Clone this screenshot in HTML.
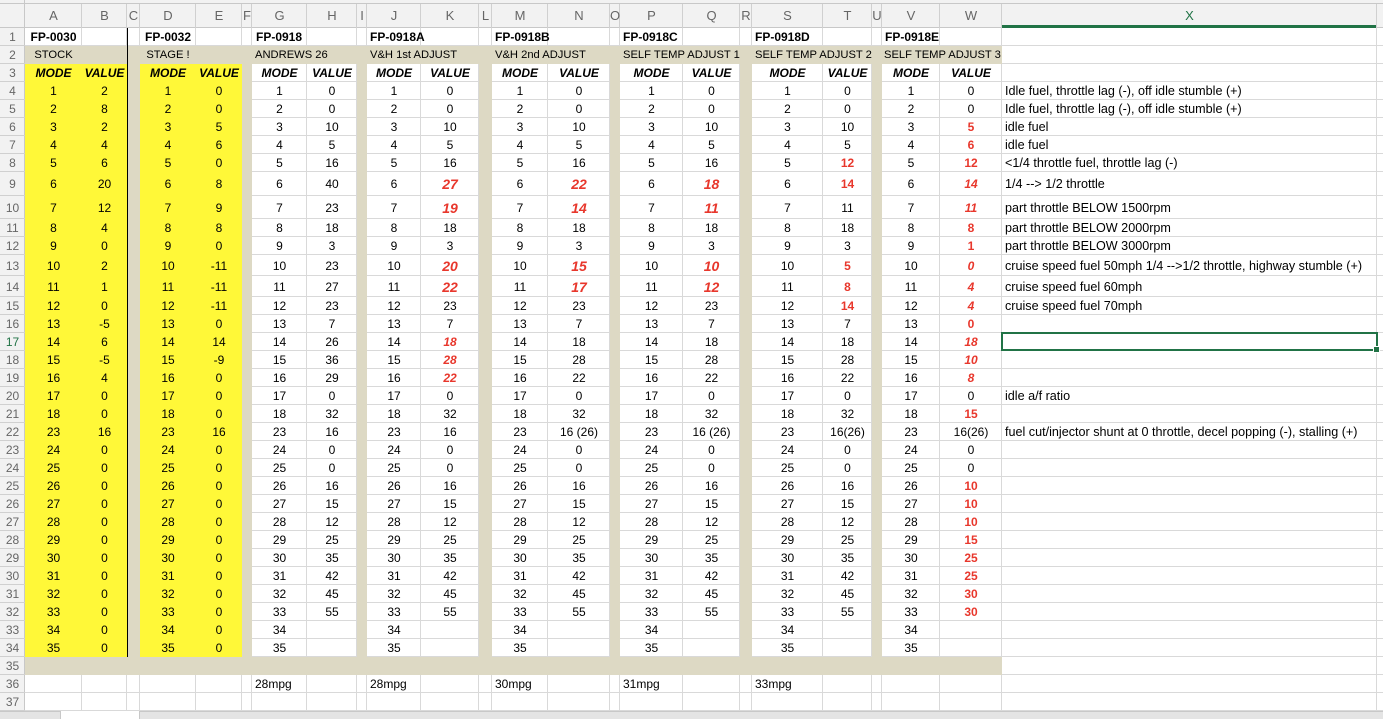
<!DOCTYPE html>
<html><head><meta charset="utf-8">
<style>
html,body{margin:0;padding:0;background:#fff;width:1383px;height:719px;overflow:hidden;position:relative;font-family:"Liberation Sans",Arial,sans-serif;}
svg.bg{position:absolute;left:0;top:0;}
table{position:absolute;left:0;top:0;border-collapse:collapse;table-layout:fixed;width:1383px;font-size:12px;}
td{padding:0;border:0;text-align:center;white-space:nowrap;overflow:visible;vertical-align:middle;color:#000;}
td.h{color:#666;font-size:12px;}
td.ch{color:#666;font-size:13px;vertical-align:middle;padding-top:3px;}
td.y{background:#fff838;}
td.g{background:#ddd9c4;}
td.l{text-align:left;padding-left:3px;}
td.l4{text-align:left;padding-left:4px;}
td.t{font-size:11.2px;}
td.c{font-size:12.6px;}
.b{font-weight:bold;}
.bi{font-weight:bold;font-style:italic;}
.r{font-weight:bold;color:#e8372c;}
.ri{font-weight:bold;font-style:italic;color:#e8372c;}
.vl{position:absolute;left:127px;top:28px;width:1px;height:629px;background:#000;}
.sel{position:absolute;left:1001px;top:332px;width:373px;height:15px;border:2px solid #217346;}
.hd{position:absolute;left:1373px;top:346px;width:5px;height:5px;background:#217346;border:1px solid #fff;}
.tab{position:absolute;left:0;top:711px;width:1383px;height:8px;background:#e4e4e4;border-top:1px solid #c8c8c8;}
.tab1{position:absolute;left:60px;top:711px;width:78px;height:8px;background:#fff;border-left:1px solid #c8c8c8;border-right:1px solid #c8c8c8;}
</style></head><body>
<svg class="bg" width="1383" height="719">
<rect x="0" y="0" width="1383" height="28" fill="#f2f2f2"/>
<rect x="0" y="0" width="25" height="711" fill="#f2f2f2"/>
<line x1="0" y1="3.5" x2="1383" y2="3.5" stroke="#c8c8c8"/>
<line x1="0" y1="27.5" x2="1383" y2="27.5" stroke="#c8c8c8"/>
<line x1="24.5" y1="0" x2="24.5" y2="711" stroke="#c8c8c8"/>
<rect x="1002" y="25" width="375" height="3" fill="#217346"/>
<path stroke="#d0d0d0" fill="none" d="M81.5 4V28M126.5 4V28M139.5 4V28M195.5 4V28M241.5 4V28M251.5 4V28M306.5 4V28M356.5 4V28M366.5 4V28M420.5 4V28M478.5 4V28M491.5 4V28M547.5 4V28M609.5 4V28M619.5 4V28M682.5 4V28M739.5 4V28M751.5 4V28M822.5 4V28M871.5 4V28M881.5 4V28M939.5 4V28M1001.5 4V28M1376.5 4V28"/>
<path stroke="#d0d0d0" fill="none" d="M0 45.5H25M0 63.5H25M0 81.5H25M0 99.5H25M0 117.5H25M0 135.5H25M0 153.5H25M0 171.5H25M0 195.5H25M0 218.5H25M0 236.5H25M0 254.5H25M0 275.5H25M0 296.5H25M0 314.5H25M0 332.5H25M0 350.5H25M0 368.5H25M0 386.5H25M0 404.5H25M0 422.5H25M0 440.5H25M0 458.5H25M0 476.5H25M0 494.5H25M0 512.5H25M0 530.5H25M0 548.5H25M0 566.5H25M0 584.5H25M0 602.5H25M0 620.5H25M0 638.5H25M0 656.5H25M0 674.5H25M0 692.5H25M0 710.5H25"/>
<path stroke="#d9d9d9" fill="none" d="M81.5 28V711M126.5 28V711M139.5 28V711M195.5 28V711M241.5 28V711M251.5 28V711M306.5 28V711M356.5 28V711M366.5 28V711M420.5 28V711M478.5 28V711M491.5 28V711M547.5 28V711M609.5 28V711M619.5 28V711M682.5 28V711M739.5 28V711M751.5 28V711M822.5 28V711M871.5 28V711M881.5 28V711M939.5 28V711M1001.5 28V711M1376.5 28V711
M25 45.5H1383M25 63.5H1383M25 81.5H1383M25 99.5H1383M25 117.5H1383M25 135.5H1383M25 153.5H1383M25 171.5H1383M25 195.5H1383M25 218.5H1383M25 236.5H1383M25 254.5H1383M25 275.5H1383M25 296.5H1383M25 314.5H1383M25 332.5H1383M25 350.5H1383M25 368.5H1383M25 386.5H1383M25 404.5H1383M25 422.5H1383M25 440.5H1383M25 458.5H1383M25 476.5H1383M25 494.5H1383M25 512.5H1383M25 530.5H1383M25 548.5H1383M25 566.5H1383M25 584.5H1383M25 602.5H1383M25 620.5H1383M25 638.5H1383M25 656.5H1383M25 674.5H1383M25 692.5H1383M25 710.5H1383"/>
</svg>
<table>
<colgroup><col style="width:25px"><col style="width:57px"><col style="width:45px"><col style="width:13px"><col style="width:56px"><col style="width:46px"><col style="width:10px"><col style="width:55px"><col style="width:50px"><col style="width:10px"><col style="width:54px"><col style="width:58px"><col style="width:13px"><col style="width:56px"><col style="width:62px"><col style="width:10px"><col style="width:63px"><col style="width:57px"><col style="width:12px"><col style="width:71px"><col style="width:49px"><col style="width:10px"><col style="width:58px"><col style="width:62px"><col style="width:375px"><col style="width:6px"></colgroup>
<tr style="height:28px"><td></td><td class="ch">A</td><td class="ch">B</td><td class="ch">C</td><td class="ch">D</td><td class="ch">E</td><td class="ch">F</td><td class="ch">G</td><td class="ch">H</td><td class="ch">I</td><td class="ch">J</td><td class="ch">K</td><td class="ch">L</td><td class="ch">M</td><td class="ch">N</td><td class="ch">O</td><td class="ch">P</td><td class="ch">Q</td><td class="ch">R</td><td class="ch">S</td><td class="ch">T</td><td class="ch">U</td><td class="ch">V</td><td class="ch">W</td><td class="ch" style="color:#217346">X</td><td></td></tr>
<tr style="height:18px"><td class="h">1</td><td class="b">FP-0030</td><td></td><td></td><td class="b">FP-0032</td><td></td><td></td><td class="l4 b">FP-0918</td><td></td><td></td><td class="l b">FP-0918A</td><td></td><td></td><td class="l b">FP-0918B</td><td></td><td></td><td class="l b">FP-0918C</td><td></td><td></td><td class="l b">FP-0918D</td><td></td><td></td><td class="l b">FP-0918E</td><td></td><td></td><td></td></tr>
<tr style="height:18px"><td class="h">2</td><td class="g t">STOCK</td><td class="g"></td><td class="g"></td><td class="g t">STAGE !</td><td class="g"></td><td class="g"></td><td class="g l t">ANDREWS 26</td><td class="g"></td><td class="g"></td><td class="g l t">V&amp;H 1st ADJUST</td><td class="g"></td><td class="g"></td><td class="g l t">V&amp;H 2nd ADJUST</td><td class="g"></td><td class="g"></td><td class="g l t">SELF TEMP ADJUST 1</td><td class="g"></td><td class="g"></td><td class="g l t">SELF TEMP ADJUST 2</td><td class="g"></td><td class="g"></td><td class="g l t" style="padding-left:2px">SELF TEMP ADJUST 3</td><td class="g"></td><td></td><td></td></tr>
<tr style="height:18px"><td class="h">3</td><td class="y bi">MODE</td><td class="y bi">VALUE</td><td class="g"></td><td class="y bi">MODE</td><td class="y bi">VALUE</td><td class="g"></td><td class="bi">MODE</td><td class="bi">VALUE</td><td class="g"></td><td class="bi">MODE</td><td class="bi">VALUE</td><td class="g"></td><td class="bi">MODE</td><td class="bi">VALUE</td><td class="g"></td><td class="bi">MODE</td><td class="bi">VALUE</td><td class="g"></td><td class="bi">MODE</td><td class="bi">VALUE</td><td class="g"></td><td class="bi">MODE</td><td class="bi">VALUE</td><td></td><td></td></tr>
<tr style="height:18px"><td class="h">4</td><td class="y">1</td><td class="y">2</td><td class="g"></td><td class="y">1</td><td class="y">0</td><td class="g"></td><td>1</td><td>0</td><td class="g"></td><td>1</td><td>0</td><td class="g"></td><td>1</td><td>0</td><td class="g"></td><td>1</td><td>0</td><td class="g"></td><td>1</td><td>0</td><td class="g"></td><td>1</td><td>0</td><td class="l c">Idle fuel, throttle lag (-), off idle stumble (+)</td><td></td></tr>
<tr style="height:18px"><td class="h">5</td><td class="y">2</td><td class="y">8</td><td class="g"></td><td class="y">2</td><td class="y">0</td><td class="g"></td><td>2</td><td>0</td><td class="g"></td><td>2</td><td>0</td><td class="g"></td><td>2</td><td>0</td><td class="g"></td><td>2</td><td>0</td><td class="g"></td><td>2</td><td>0</td><td class="g"></td><td>2</td><td>0</td><td class="l c">Idle fuel, throttle lag (-), off idle stumble (+)</td><td></td></tr>
<tr style="height:18px"><td class="h">6</td><td class="y">3</td><td class="y">2</td><td class="g"></td><td class="y">3</td><td class="y">5</td><td class="g"></td><td>3</td><td>10</td><td class="g"></td><td>3</td><td>10</td><td class="g"></td><td>3</td><td>10</td><td class="g"></td><td>3</td><td>10</td><td class="g"></td><td>3</td><td>10</td><td class="g"></td><td>3</td><td class="r">5</td><td class="l c">idle fuel</td><td></td></tr>
<tr style="height:18px"><td class="h">7</td><td class="y">4</td><td class="y">4</td><td class="g"></td><td class="y">4</td><td class="y">6</td><td class="g"></td><td>4</td><td>5</td><td class="g"></td><td>4</td><td>5</td><td class="g"></td><td>4</td><td>5</td><td class="g"></td><td>4</td><td>5</td><td class="g"></td><td>4</td><td>5</td><td class="g"></td><td>4</td><td class="r">6</td><td class="l c">idle fuel</td><td></td></tr>
<tr style="height:18px"><td class="h">8</td><td class="y">5</td><td class="y">6</td><td class="g"></td><td class="y">5</td><td class="y">0</td><td class="g"></td><td>5</td><td>16</td><td class="g"></td><td>5</td><td>16</td><td class="g"></td><td>5</td><td>16</td><td class="g"></td><td>5</td><td>16</td><td class="g"></td><td>5</td><td class="r">12</td><td class="g"></td><td>5</td><td class="r">12</td><td class="l c">&lt;1/4 throttle fuel, throttle lag (-)</td><td></td></tr>
<tr style="height:24px"><td class="h">9</td><td class="y">6</td><td class="y">20</td><td class="g"></td><td class="y">6</td><td class="y">8</td><td class="g"></td><td>6</td><td>40</td><td class="g"></td><td>6</td><td class="ri" style="font-size:14px">27</td><td class="g"></td><td>6</td><td class="ri" style="font-size:14px">22</td><td class="g"></td><td>6</td><td class="ri" style="font-size:14px">18</td><td class="g"></td><td>6</td><td class="r">14</td><td class="g"></td><td>6</td><td class="ri">14</td><td class="l c">1/4 --&gt; 1/2 throttle</td><td></td></tr>
<tr style="height:23px"><td class="h">10</td><td class="y">7</td><td class="y">12</td><td class="g"></td><td class="y">7</td><td class="y">9</td><td class="g"></td><td>7</td><td>23</td><td class="g"></td><td>7</td><td class="ri" style="font-size:14px">19</td><td class="g"></td><td>7</td><td class="ri" style="font-size:14px">14</td><td class="g"></td><td>7</td><td class="ri" style="font-size:14px">11</td><td class="g"></td><td>7</td><td>11</td><td class="g"></td><td>7</td><td class="ri">11</td><td class="l c">part throttle BELOW 1500rpm</td><td></td></tr>
<tr style="height:18px"><td class="h">11</td><td class="y">8</td><td class="y">4</td><td class="g"></td><td class="y">8</td><td class="y">8</td><td class="g"></td><td>8</td><td>18</td><td class="g"></td><td>8</td><td>18</td><td class="g"></td><td>8</td><td>18</td><td class="g"></td><td>8</td><td>18</td><td class="g"></td><td>8</td><td>18</td><td class="g"></td><td>8</td><td class="r">8</td><td class="l c">part throttle BELOW 2000rpm</td><td></td></tr>
<tr style="height:18px"><td class="h">12</td><td class="y">9</td><td class="y">0</td><td class="g"></td><td class="y">9</td><td class="y">0</td><td class="g"></td><td>9</td><td>3</td><td class="g"></td><td>9</td><td>3</td><td class="g"></td><td>9</td><td>3</td><td class="g"></td><td>9</td><td>3</td><td class="g"></td><td>9</td><td>3</td><td class="g"></td><td>9</td><td class="r">1</td><td class="l c">part throttle BELOW 3000rpm</td><td></td></tr>
<tr style="height:21px"><td class="h">13</td><td class="y">10</td><td class="y">2</td><td class="g"></td><td class="y">10</td><td class="y">-11</td><td class="g"></td><td>10</td><td>23</td><td class="g"></td><td>10</td><td class="ri" style="font-size:14px">20</td><td class="g"></td><td>10</td><td class="ri" style="font-size:14px">15</td><td class="g"></td><td>10</td><td class="ri" style="font-size:14px">10</td><td class="g"></td><td>10</td><td class="r">5</td><td class="g"></td><td>10</td><td class="ri">0</td><td class="l c">cruise speed fuel 50mph 1/4 --&gt;1/2 throttle, highway stumble (+)</td><td></td></tr>
<tr style="height:21px"><td class="h">14</td><td class="y">11</td><td class="y">1</td><td class="g"></td><td class="y">11</td><td class="y">-11</td><td class="g"></td><td>11</td><td>27</td><td class="g"></td><td>11</td><td class="ri" style="font-size:14px">22</td><td class="g"></td><td>11</td><td class="ri" style="font-size:14px">17</td><td class="g"></td><td>11</td><td class="ri" style="font-size:14px">12</td><td class="g"></td><td>11</td><td class="r">8</td><td class="g"></td><td>11</td><td class="ri">4</td><td class="l c">cruise speed fuel 60mph</td><td></td></tr>
<tr style="height:18px"><td class="h">15</td><td class="y">12</td><td class="y">0</td><td class="g"></td><td class="y">12</td><td class="y">-11</td><td class="g"></td><td>12</td><td>23</td><td class="g"></td><td>12</td><td>23</td><td class="g"></td><td>12</td><td>23</td><td class="g"></td><td>12</td><td>23</td><td class="g"></td><td>12</td><td class="r">14</td><td class="g"></td><td>12</td><td class="ri">4</td><td class="l c">cruise speed fuel 70mph</td><td></td></tr>
<tr style="height:18px"><td class="h">16</td><td class="y">13</td><td class="y">-5</td><td class="g"></td><td class="y">13</td><td class="y">0</td><td class="g"></td><td>13</td><td>7</td><td class="g"></td><td>13</td><td>7</td><td class="g"></td><td>13</td><td>7</td><td class="g"></td><td>13</td><td>7</td><td class="g"></td><td>13</td><td>7</td><td class="g"></td><td>13</td><td class="r">0</td><td></td><td></td></tr>
<tr style="height:18px"><td class="h" style="color:#217346">17</td><td class="y">14</td><td class="y">6</td><td class="g"></td><td class="y">14</td><td class="y">14</td><td class="g"></td><td>14</td><td>26</td><td class="g"></td><td>14</td><td class="ri">18</td><td class="g"></td><td>14</td><td>18</td><td class="g"></td><td>14</td><td>18</td><td class="g"></td><td>14</td><td>18</td><td class="g"></td><td>14</td><td class="ri">18</td><td></td><td></td></tr>
<tr style="height:18px"><td class="h">18</td><td class="y">15</td><td class="y">-5</td><td class="g"></td><td class="y">15</td><td class="y">-9</td><td class="g"></td><td>15</td><td>36</td><td class="g"></td><td>15</td><td class="ri">28</td><td class="g"></td><td>15</td><td>28</td><td class="g"></td><td>15</td><td>28</td><td class="g"></td><td>15</td><td>28</td><td class="g"></td><td>15</td><td class="ri">10</td><td></td><td></td></tr>
<tr style="height:18px"><td class="h">19</td><td class="y">16</td><td class="y">4</td><td class="g"></td><td class="y">16</td><td class="y">0</td><td class="g"></td><td>16</td><td>29</td><td class="g"></td><td>16</td><td class="ri">22</td><td class="g"></td><td>16</td><td>22</td><td class="g"></td><td>16</td><td>22</td><td class="g"></td><td>16</td><td>22</td><td class="g"></td><td>16</td><td class="ri">8</td><td></td><td></td></tr>
<tr style="height:18px"><td class="h">20</td><td class="y">17</td><td class="y">0</td><td class="g"></td><td class="y">17</td><td class="y">0</td><td class="g"></td><td>17</td><td>0</td><td class="g"></td><td>17</td><td>0</td><td class="g"></td><td>17</td><td>0</td><td class="g"></td><td>17</td><td>0</td><td class="g"></td><td>17</td><td>0</td><td class="g"></td><td>17</td><td>0</td><td class="l c">idle a/f ratio</td><td></td></tr>
<tr style="height:18px"><td class="h">21</td><td class="y">18</td><td class="y">0</td><td class="g"></td><td class="y">18</td><td class="y">0</td><td class="g"></td><td>18</td><td>32</td><td class="g"></td><td>18</td><td>32</td><td class="g"></td><td>18</td><td>32</td><td class="g"></td><td>18</td><td>32</td><td class="g"></td><td>18</td><td>32</td><td class="g"></td><td>18</td><td class="r">15</td><td></td><td></td></tr>
<tr style="height:18px"><td class="h">22</td><td class="y">23</td><td class="y">16</td><td class="g"></td><td class="y">23</td><td class="y">16</td><td class="g"></td><td>23</td><td>16</td><td class="g"></td><td>23</td><td>16</td><td class="g"></td><td>23</td><td>16 (26)</td><td class="g"></td><td>23</td><td>16 (26)</td><td class="g"></td><td>23</td><td>16(26)</td><td class="g"></td><td>23</td><td>16(26)</td><td class="l c">fuel cut/injector shunt at 0 throttle, decel popping (-), stalling (+)</td><td></td></tr>
<tr style="height:18px"><td class="h">23</td><td class="y">24</td><td class="y">0</td><td class="g"></td><td class="y">24</td><td class="y">0</td><td class="g"></td><td>24</td><td>0</td><td class="g"></td><td>24</td><td>0</td><td class="g"></td><td>24</td><td>0</td><td class="g"></td><td>24</td><td>0</td><td class="g"></td><td>24</td><td>0</td><td class="g"></td><td>24</td><td>0</td><td></td><td></td></tr>
<tr style="height:18px"><td class="h">24</td><td class="y">25</td><td class="y">0</td><td class="g"></td><td class="y">25</td><td class="y">0</td><td class="g"></td><td>25</td><td>0</td><td class="g"></td><td>25</td><td>0</td><td class="g"></td><td>25</td><td>0</td><td class="g"></td><td>25</td><td>0</td><td class="g"></td><td>25</td><td>0</td><td class="g"></td><td>25</td><td>0</td><td></td><td></td></tr>
<tr style="height:18px"><td class="h">25</td><td class="y">26</td><td class="y">0</td><td class="g"></td><td class="y">26</td><td class="y">0</td><td class="g"></td><td>26</td><td>16</td><td class="g"></td><td>26</td><td>16</td><td class="g"></td><td>26</td><td>16</td><td class="g"></td><td>26</td><td>16</td><td class="g"></td><td>26</td><td>16</td><td class="g"></td><td>26</td><td class="r">10</td><td></td><td></td></tr>
<tr style="height:18px"><td class="h">26</td><td class="y">27</td><td class="y">0</td><td class="g"></td><td class="y">27</td><td class="y">0</td><td class="g"></td><td>27</td><td>15</td><td class="g"></td><td>27</td><td>15</td><td class="g"></td><td>27</td><td>15</td><td class="g"></td><td>27</td><td>15</td><td class="g"></td><td>27</td><td>15</td><td class="g"></td><td>27</td><td class="r">10</td><td></td><td></td></tr>
<tr style="height:18px"><td class="h">27</td><td class="y">28</td><td class="y">0</td><td class="g"></td><td class="y">28</td><td class="y">0</td><td class="g"></td><td>28</td><td>12</td><td class="g"></td><td>28</td><td>12</td><td class="g"></td><td>28</td><td>12</td><td class="g"></td><td>28</td><td>12</td><td class="g"></td><td>28</td><td>12</td><td class="g"></td><td>28</td><td class="r">10</td><td></td><td></td></tr>
<tr style="height:18px"><td class="h">28</td><td class="y">29</td><td class="y">0</td><td class="g"></td><td class="y">29</td><td class="y">0</td><td class="g"></td><td>29</td><td>25</td><td class="g"></td><td>29</td><td>25</td><td class="g"></td><td>29</td><td>25</td><td class="g"></td><td>29</td><td>25</td><td class="g"></td><td>29</td><td>25</td><td class="g"></td><td>29</td><td class="r">15</td><td></td><td></td></tr>
<tr style="height:18px"><td class="h">29</td><td class="y">30</td><td class="y">0</td><td class="g"></td><td class="y">30</td><td class="y">0</td><td class="g"></td><td>30</td><td>35</td><td class="g"></td><td>30</td><td>35</td><td class="g"></td><td>30</td><td>35</td><td class="g"></td><td>30</td><td>35</td><td class="g"></td><td>30</td><td>35</td><td class="g"></td><td>30</td><td class="r">25</td><td></td><td></td></tr>
<tr style="height:18px"><td class="h">30</td><td class="y">31</td><td class="y">0</td><td class="g"></td><td class="y">31</td><td class="y">0</td><td class="g"></td><td>31</td><td>42</td><td class="g"></td><td>31</td><td>42</td><td class="g"></td><td>31</td><td>42</td><td class="g"></td><td>31</td><td>42</td><td class="g"></td><td>31</td><td>42</td><td class="g"></td><td>31</td><td class="r">25</td><td></td><td></td></tr>
<tr style="height:18px"><td class="h">31</td><td class="y">32</td><td class="y">0</td><td class="g"></td><td class="y">32</td><td class="y">0</td><td class="g"></td><td>32</td><td>45</td><td class="g"></td><td>32</td><td>45</td><td class="g"></td><td>32</td><td>45</td><td class="g"></td><td>32</td><td>45</td><td class="g"></td><td>32</td><td>45</td><td class="g"></td><td>32</td><td class="r">30</td><td></td><td></td></tr>
<tr style="height:18px"><td class="h">32</td><td class="y">33</td><td class="y">0</td><td class="g"></td><td class="y">33</td><td class="y">0</td><td class="g"></td><td>33</td><td>55</td><td class="g"></td><td>33</td><td>55</td><td class="g"></td><td>33</td><td>55</td><td class="g"></td><td>33</td><td>55</td><td class="g"></td><td>33</td><td>55</td><td class="g"></td><td>33</td><td class="r">30</td><td></td><td></td></tr>
<tr style="height:18px"><td class="h">33</td><td class="y">34</td><td class="y">0</td><td class="g"></td><td class="y">34</td><td class="y">0</td><td class="g"></td><td>34</td><td></td><td class="g"></td><td>34</td><td></td><td class="g"></td><td>34</td><td></td><td class="g"></td><td>34</td><td></td><td class="g"></td><td>34</td><td></td><td class="g"></td><td>34</td><td></td><td></td><td></td></tr>
<tr style="height:18px"><td class="h">34</td><td class="y">35</td><td class="y">0</td><td class="g"></td><td class="y">35</td><td class="y">0</td><td class="g"></td><td>35</td><td></td><td class="g"></td><td>35</td><td></td><td class="g"></td><td>35</td><td></td><td class="g"></td><td>35</td><td></td><td class="g"></td><td>35</td><td></td><td class="g"></td><td>35</td><td></td><td></td><td></td></tr>
<tr style="height:18px"><td class="h">35</td><td class="g"></td><td class="g"></td><td class="g"></td><td class="g"></td><td class="g"></td><td class="g"></td><td class="g"></td><td class="g"></td><td class="g"></td><td class="g"></td><td class="g"></td><td class="g"></td><td class="g"></td><td class="g"></td><td class="g"></td><td class="g"></td><td class="g"></td><td class="g"></td><td class="g"></td><td class="g"></td><td class="g"></td><td class="g"></td><td class="g"></td><td></td><td></td></tr>
<tr style="height:18px"><td class="h">36</td><td></td><td></td><td></td><td></td><td></td><td></td><td class="l">28mpg</td><td></td><td></td><td class="l">28mpg</td><td></td><td></td><td class="l">30mpg</td><td></td><td></td><td class="l">31mpg</td><td></td><td></td><td class="l">33mpg</td><td></td><td></td><td></td><td></td><td></td><td></td></tr>
<tr style="height:18px"><td class="h">37</td><td></td><td></td><td></td><td></td><td></td><td></td><td></td><td></td><td></td><td></td><td></td><td></td><td></td><td></td><td></td><td></td><td></td><td></td><td></td><td></td><td></td><td></td><td></td><td></td><td></td></tr>
</table>
<div class="vl"></div>
<div class="sel"></div>
<div class="hd"></div>
<div class="tab"></div>
<div class="tab1"></div>
</body></html>
